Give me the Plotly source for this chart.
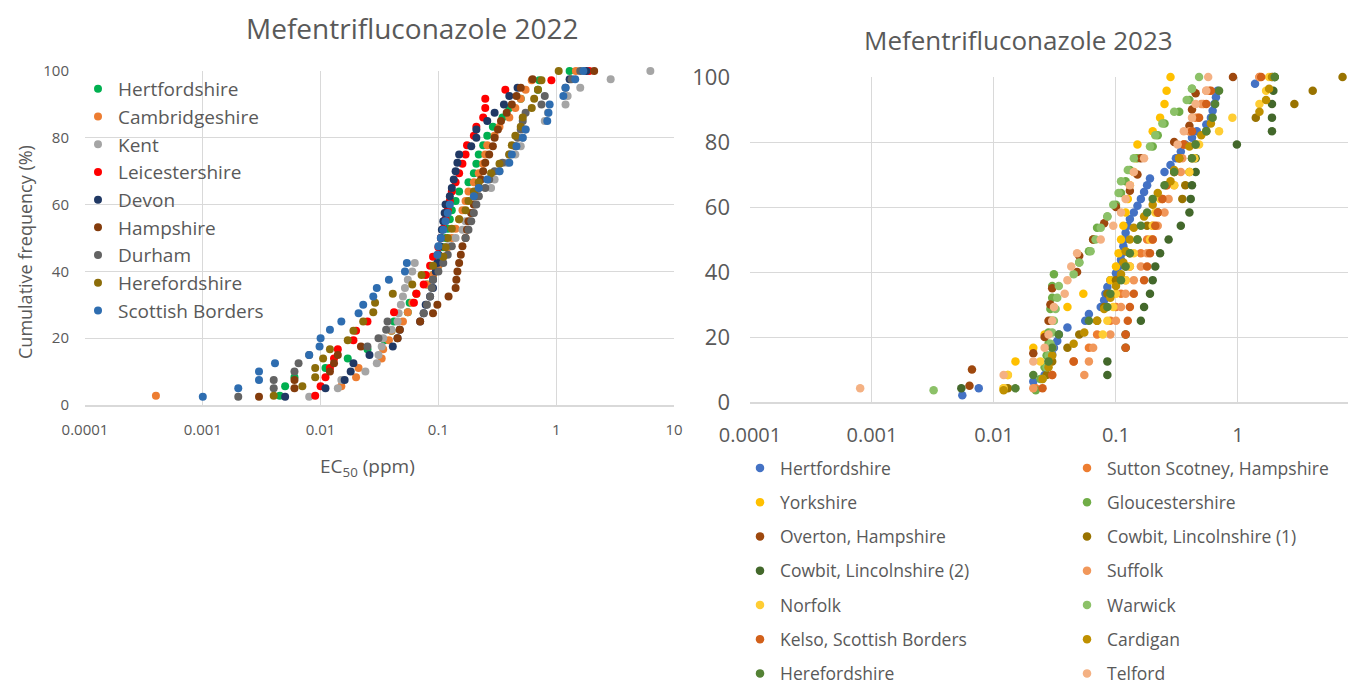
import plotly.graph_objects as go

# ---------------- cumulative frequency levels (%) ----------------
CF20 = [5, 10, 15, 20, 25, 30, 35, 40, 45, 50, 55, 60, 65, 70, 75, 80, 85, 90, 95, 100]
CF24 = [4.2, 8.3, 12.5, 16.7, 20.8, 25.0, 29.2, 33.3, 37.5, 41.7, 45.8, 50.0,
        54.2, 58.3, 62.5, 66.7, 70.8, 75.0, 79.2, 83.3, 87.5, 91.7, 95.8, 100.0]
CF28 = [3.6, 7.1, 10.7, 14.3, 17.9, 21.4, 25.0, 28.6, 32.1, 35.7, 39.3, 42.9, 46.4, 50.0,
        53.6, 57.1, 60.7, 64.3, 67.9, 71.4, 75.0, 78.6, 82.1, 85.7, 89.3, 92.9, 96.4, 100.0]
CF36 = [2.8, 5.6, 8.3, 11.1, 13.9, 16.7, 19.4, 22.2, 25.0, 27.8, 30.6, 33.3, 36.1, 38.9,
        41.7, 44.4, 47.2, 50.0, 52.8, 55.6, 58.3, 61.1, 63.9, 66.7, 69.4, 72.2, 75.0, 77.8,
        80.6, 83.3, 86.1, 88.9, 91.7, 94.4, 97.2, 100.0]
CF40 = [2.5, 5.0, 7.5, 10.0, 12.5, 15.0, 17.5, 20.0, 22.5, 25.0, 27.5, 30.0, 32.5, 35.0,
        37.5, 40.0, 42.5, 45.0, 47.5, 50.0, 52.5, 55.0, 57.5, 60.0, 62.5, 65.0, 67.5, 70.0,
        72.5, 75.0, 77.5, 80.0, 82.5, 85.0, 87.5, 90.0, 92.5, 95.0, 97.5, 100.0]
CF48 = [2.1, 4.2, 6.3, 8.3, 10.4, 12.5, 14.6, 16.7, 18.8, 20.8, 22.9, 25.0, 27.1, 29.2,
        31.3, 33.3, 35.4, 37.5, 39.6, 41.7, 43.8, 45.8, 47.9, 50.0, 52.1, 54.2, 56.3, 58.3,
        60.4, 62.5, 64.6, 66.7, 68.8, 70.8, 72.9, 75.0, 77.1, 79.2, 81.3, 83.3, 85.4, 87.5,
        89.6, 91.7, 93.8, 95.8, 97.9, 100.0]

# ---------------- 2022 EC50 values (ppm), sorted per site ----------------
herts_22 = [0.0045, 0.005, 0.006, 0.011, 0.017, 0.025, 0.035, 0.04, 0.042, 0.055, 0.057, 0.065,
            0.08, 0.09, 0.1, 0.105, 0.11, 0.115, 0.12, 0.125, 0.13, 0.14, 0.15, 0.18, 0.2, 0.21,
            0.22, 0.24, 0.26, 0.29, 0.35, 0.4, 0.5, 0.7, 0.72, 1.3]
cambs_22 = [0.0004, 0.015, 0.02, 0.021, 0.033, 0.034, 0.038, 0.04, 0.05, 0.055, 0.06, 0.065,
            0.08, 0.09, 0.1, 0.11, 0.12, 0.13, 0.14, 0.15, 0.16, 0.17, 0.18, 0.2, 0.22, 0.24,
            0.25, 0.26, 0.3, 0.33, 0.4, 0.45, 0.5, 0.55, 0.62, 1.47]
kent_22 = [0.008, 0.014, 0.015, 0.024, 0.03, 0.031, 0.033, 0.034, 0.04, 0.045, 0.046, 0.048,
           0.05, 0.052, 0.055, 0.06, 0.063, 0.1, 0.12, 0.14, 0.16, 0.17, 0.19, 0.2, 0.22, 0.28,
           0.3, 0.33, 0.38, 0.45, 0.5, 0.52, 0.55, 0.8, 0.85, 1.2, 1.25, 1.6, 2.9, 6.3]
leics_22 = [0.009, 0.01, 0.011, 0.012, 0.013, 0.014, 0.019, 0.02, 0.025, 0.042, 0.062, 0.065,
            0.075, 0.078, 0.085, 0.09, 0.1, 0.105, 0.11, 0.115, 0.12, 0.125, 0.13, 0.14, 0.15,
            0.16, 0.17, 0.175, 0.2, 0.21, 0.24, 0.25, 0.25, 0.37, 0.91, 1.9]
devon_22 = [0.005, 0.011, 0.016, 0.018, 0.019, 0.026, 0.041, 0.045, 0.047, 0.07, 0.075, 0.078,
            0.085, 0.09, 0.09, 0.095, 0.098, 0.1, 0.103, 0.105, 0.107, 0.11, 0.113, 0.115,
            0.125, 0.13, 0.135, 0.14, 0.145, 0.15, 0.19, 0.21, 0.21, 0.26, 0.3, 0.36, 0.4, 0.47,
            1.3, 1.8]
hants_22 = [0.003, 0.006, 0.006, 0.012, 0.013, 0.014, 0.022, 0.045, 0.047, 0.07, 0.09, 0.098,
            0.122, 0.14, 0.142, 0.145, 0.15, 0.155, 0.16, 0.17, 0.175, 0.18, 0.19, 0.2, 0.21,
            0.22, 0.23, 0.24, 0.25, 0.27, 0.29, 0.3, 0.32, 0.34, 0.38, 0.42, 0.46, 0.5, 0.63, 2.1]
durham_22 = [0.002, 0.004, 0.004, 0.006, 0.0065, 0.008, 0.025, 0.031, 0.036, 0.037, 0.075, 0.08,
             0.085, 0.088, 0.09, 0.1, 0.11, 0.12, 0.13, 0.17, 0.18, 0.19, 0.2, 0.21, 0.22, 0.25,
             0.27, 0.3, 0.35, 0.4, 0.45, 0.47, 0.5, 0.52, 0.55, 0.75, 0.8, 1.2, 1.35, 1.6]
heref_22 = [0.004, 0.007, 0.009, 0.009, 0.0105, 0.012, 0.017, 0.019, 0.023, 0.028, 0.029, 0.041,
            0.06, 0.072, 0.09, 0.11, 0.115, 0.12, 0.13, 0.15, 0.17, 0.18, 0.2, 0.22, 0.28, 0.33,
            0.4, 0.42, 0.45, 0.5, 0.52, 0.62, 0.65, 0.7, 0.75, 1.05]
borders_22 = [0.001, 0.002, 0.003, 0.003, 0.0041, 0.008, 0.0098, 0.01, 0.012, 0.015, 0.021, 0.023,
              0.028, 0.03, 0.038, 0.052, 0.054, 0.098, 0.1, 0.105, 0.11, 0.115, 0.12, 0.125, 0.2,
              0.22, 0.26, 0.33, 0.4, 0.42, 0.46, 0.52, 0.55, 0.84, 0.86, 0.88, 1.15, 1.2, 1.45, 1.7]

# ---------------- 2023 EC50 values (ppm), sorted per site ----------------
herts_23 = [0.0055, 0.0075, 0.021, 0.026, 0.027, 0.028, 0.03, 0.031, 0.033, 0.034, 0.04, 0.056,
            0.06, 0.075, 0.08, 0.082, 0.085, 0.09, 0.1, 0.105, 0.11, 0.112, 0.115, 0.118, 0.12,
            0.125, 0.13, 0.14, 0.15, 0.16, 0.17, 0.18, 0.19, 0.25, 0.28, 0.31, 0.34, 0.37, 0.42,
            0.46, 0.55, 0.6, 0.62, 0.64, 0.66, 0.68, 1.38, 1.9]
sutton_23 = [0.022, 0.03, 0.045, 0.06, 0.07, 0.09, 0.1, 0.11, 0.12, 0.13, 0.16, 0.18, 0.2, 0.22,
             0.24, 0.26, 0.3, 0.33, 0.36, 0.4, 0.45, 0.52, 0.58, 1.5]
yorks_23 = [0.012, 0.013, 0.015, 0.021, 0.026, 0.03, 0.04, 0.054, 0.09, 0.1, 0.105, 0.11, 0.115,
            0.12, 0.125, 0.13, 0.14, 0.145, 0.15, 0.2, 0.23, 0.25, 0.26, 0.28]
glos_23 = [0.022, 0.024, 0.026, 0.027, 0.028, 0.028, 0.029, 0.029, 0.03, 0.03, 0.031, 0.05,
           0.06, 0.065, 0.07, 0.085, 0.1, 0.11, 0.12, 0.13, 0.15, 0.2, 0.22, 0.25, 0.33, 0.4,
           0.42, 2.0]
overton_23 = [0.0063, 0.0066, 0.021, 0.026, 0.028, 0.029, 0.03, 0.048, 0.05, 0.065, 0.08, 0.1,
              0.13, 0.15, 0.16, 0.3, 0.4, 0.42, 0.45, 0.91]
cowbit1_23 = [0.013, 0.027, 0.03, 0.04, 0.05, 0.07, 0.08, 0.085, 0.1, 0.12, 0.13, 0.15, 0.18,
              0.22, 0.35, 0.37, 0.4, 0.42, 0.45, 0.55, 1.4, 2.9, 4.1, 7.2]
cowbit2_23 = [0.0054, 0.085, 0.085, 0.12, 0.12, 0.16, 0.17, 0.19, 0.2, 0.21, 0.23, 0.27, 0.34,
              0.4, 0.41, 0.42, 0.45, 0.45, 0.98, 1.9, 1.9, 1.9, 1.95, 2.0]
suffolk_23 = [0.021, 0.055, 0.06, 0.065, 0.09, 0.1, 0.11, 0.12, 0.14, 0.16, 0.18, 0.2, 0.22,
              0.25, 0.27, 0.3, 0.34, 0.35, 0.36, 0.4, 0.47, 0.5, 0.55, 1.5]
norfolk_23 = [0.012, 0.013, 0.024, 0.03, 0.078, 0.085, 0.095, 0.1, 0.12, 0.13, 0.14, 0.19, 0.2,
              0.21, 0.23, 0.3, 0.4, 0.44, 0.48, 0.7, 0.9, 1.5, 1.7, 1.8]
warwick_23 = [0.0032, 0.025, 0.027, 0.028, 0.029, 0.03, 0.031, 0.032, 0.033, 0.034, 0.045, 0.05,
              0.062, 0.068, 0.075, 0.085, 0.095, 0.105, 0.11, 0.125, 0.14, 0.19, 0.21, 0.24, 0.3,
              0.38, 0.42, 0.48]
kelso_23 = [0.025, 0.03, 0.045, 0.12, 0.12, 0.125, 0.13, 0.14, 0.17, 0.18, 0.19, 0.2, 0.21, 0.22,
            0.24, 0.26, 0.3, 0.33, 0.36, 0.42, 0.48, 0.55, 0.6, 1.55]
cardigan_23 = [0.012, 0.025, 0.028, 0.03, 0.045, 0.055, 0.07, 0.08, 0.09, 0.1, 0.11, 0.115, 0.12,
               0.13, 0.14, 0.17, 0.2, 0.22, 0.28, 0.3, 0.33, 0.4, 0.5, 0.6, 1.5, 1.7, 1.8, 1.9]
heref_23 = [0.015, 0.021, 0.028, 0.03, 0.034, 0.06, 0.085, 0.09, 0.11, 0.12, 0.13, 0.15, 0.16,
            0.18, 0.2, 0.25, 0.3, 0.42, 0.45, 0.55, 0.62, 0.65, 0.7, 2.0]
telford_23 = [0.0008, 0.012, 0.021, 0.026, 0.028, 0.03, 0.031, 0.038, 0.04, 0.043, 0.048, 0.075,
              0.095, 0.11, 0.12, 0.13, 0.14, 0.17, 0.32, 0.36, 0.42, 0.45, 0.55, 0.57]

# ---------------- axis ticks ----------------
x_tickvals_22 = [0.0001, 0.001, 0.01, 0.1, 1, 10]
x_ticktext_22 = ["0.0001", "0.001", "0.01", "0.1", "1", "10"]
x_tickvals_23 = [0.0001, 0.001, 0.01, 0.1, 1]
x_ticktext_23 = ["0.0001", "0.001", "0.01", "0.1", "1"]
y_tickvals = [0, 20, 40, 60, 80, 100]

# (label, x values, y values, colour)
series_2022 = [
    ("Hertfordshire", herts_22, CF36, "#00B050"),
    ("Cambridgeshire", cambs_22, CF36, "#ED7D31"),
    ("Kent", kent_22, CF40, "#A5A5A5"),
    ("Leicestershire", leics_22, CF36, "#FF0000"),
    ("Devon", devon_22, CF40, "#203864"),
    ("Hampshire", hants_22, CF40, "#843C0C"),
    ("Durham", durham_22, CF40, "#636363"),
    ("Herefordshire", heref_22, CF36, "#8C6D0A"),
    ("Scottish Borders", borders_22, CF40, "#2E6DB0"),
]

# (label, x values, y values, colour, legend column)
series_2023 = [
    ("Hertfordshire", herts_23, CF48, "#4472C4", "legend2"),
    ("Sutton Scotney, Hampshire", sutton_23, CF24, "#ED7D31", "legend3"),
    ("Yorkshire", yorks_23, CF24, "#FFC000", "legend2"),
    ("Gloucestershire", glos_23, CF28, "#70AD47", "legend3"),
    ("Overton, Hampshire", overton_23, CF20, "#9E480E", "legend2"),
    ("Cowbit, Lincolnshire (1)", cowbit1_23, CF24, "#997300", "legend3"),
    ("Cowbit, Lincolnshire (2)", cowbit2_23, CF24, "#43682B", "legend2"),
    ("Suffolk", suffolk_23, CF24, "#F1975A", "legend3"),
    ("Norfolk", norfolk_23, CF24, "#FFCD33", "legend2"),
    ("Warwick", warwick_23, CF28, "#8CC168", "legend3"),
    ("Kelso, Scottish Borders", kelso_23, CF24, "#D2601A", "legend2"),
    ("Cardigan", cardigan_23, CF28, "#BF9000", "legend3"),
    ("Herefordshire", heref_23, CF24, "#548235", "legend2"),
    ("Telford", telford_23, CF24, "#F4B183", "legend3"),
]

W, H = 1348, 684
FONT = "Open Sans"
GREY = "#595959"
GRID = "#D9D9D9"


def px_x(p):
    return p / W


def px_y(p):
    return 1 - p / H


fig = go.Figure()

for name, xs, ys, col in series_2022:
    fig.add_trace(go.Scatter(
        x=xs, y=ys, mode="markers", name=name, legend="legend",
        marker=dict(color=col, size=8), cliponaxis=False,
        xaxis="x", yaxis="y",
    ))

for name, xs, ys, col, leg in series_2023:
    fig.add_trace(go.Scatter(
        x=xs, y=ys, mode="markers", name=name, legend=leg, legendgroup=name + " 2023",
        marker=dict(color=col, size=8.5), cliponaxis=False,
        xaxis="x2", yaxis="y2",
    ))

axis_common = dict(showgrid=True, gridcolor=GRID, gridwidth=1, zeroline=False,
                   ticks="", color=GREY, automargin=False)

fig.update_layout(
    width=W, height=H,
    margin=dict(l=0, r=0, t=0, b=0, autoexpand=False),
    paper_bgcolor="white", plot_bgcolor="white",
    font=dict(family=FONT, color=GREY),
    xaxis=dict(type="log", range=[-4, 1], domain=[px_x(85), px_x(674)],
               tickvals=x_tickvals_22, ticktext=x_ticktext_22,
               tickfont=dict(size=15), ticklabelstandoff=10,
               showline=True, linecolor=GRID, linewidth=1.5,
               anchor="y", **axis_common),
    yaxis=dict(range=[0, 100], domain=[px_y(405), px_y(71)],
               tickvals=y_tickvals, tickfont=dict(size=15), ticklabelstandoff=15,
               anchor="x", **axis_common),
    xaxis2=dict(type="log", range=[-4, 0.902], domain=[px_x(750), 1.0],
                tickvals=x_tickvals_23, ticktext=x_ticktext_23,
                tickfont=dict(size=20), ticklabelstandoff=14,
                showline=True, linecolor=GRID, linewidth=1.5,
                anchor="y2", **axis_common),
    yaxis2=dict(range=[0, 100], domain=[px_y(402), px_y(77)],
                tickvals=y_tickvals, tickfont=dict(size=22), ticklabelstandoff=19,
                anchor="x2", **axis_common),
    legend=dict(x=px_x(78), y=px_y(70), xanchor="left", yanchor="top",
                font=dict(size=19, color=GREY), bgcolor="rgba(0,0,0,0)",
                itemwidth=30, tracegroupgap=0),
    legend2=dict(x=px_x(740), y=px_y(450), xanchor="left", yanchor="top",
                 font=dict(size=17.5, color=GREY), bgcolor="rgba(0,0,0,0)",
                 tracegroupgap=8.5),
    legend3=dict(x=px_x(1067), y=px_y(450), xanchor="left", yanchor="top",
                 font=dict(size=17.5, color=GREY), bgcolor="rgba(0,0,0,0)",
                 tracegroupgap=8.5),
    annotations=[
        dict(text="Mefentrifluconazole 2022", x=px_x(412), y=px_y(28),
             xref="paper", yref="paper", xanchor="center", yanchor="middle",
             showarrow=False, font=dict(size=28, color=GREY)),
        dict(text="Mefentrifluconazole 2023", x=px_x(1018), y=px_y(40),
             xref="paper", yref="paper", xanchor="center", yanchor="middle",
             showarrow=False, font=dict(size=26, color=GREY)),
        dict(text="Cumulative frequency (%)", x=px_x(25), y=px_y(252),
             xref="paper", yref="paper", xanchor="center", yanchor="middle",
             showarrow=False, textangle=-90, font=dict(size=18, color=GREY)),
        dict(text="EC<sub>50</sub> (ppm)", x=px_x(367), y=px_y(467),
             xref="paper", yref="paper", xanchor="center", yanchor="middle",
             showarrow=False, font=dict(size=19, color=GREY)),
    ],
)

fig.write_html("out.html")
